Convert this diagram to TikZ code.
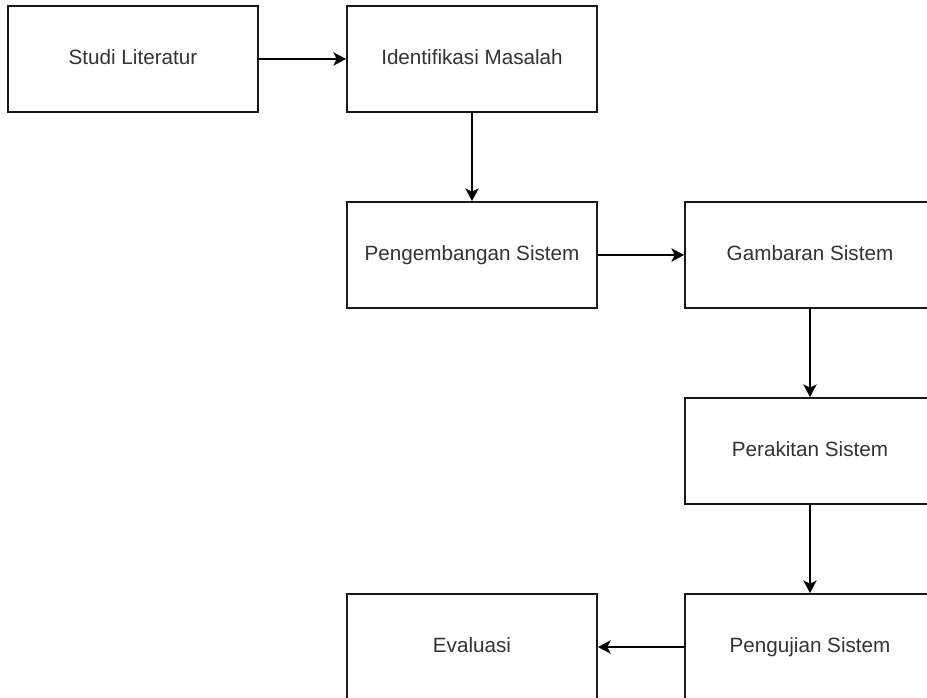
\documentclass[tikz,border=0pt]{standalone}
\usepackage{fontspec}
\setmainfont{Liberation Sans}
\usetikzlibrary{arrows.meta}
\begin{document}
\begin{tikzpicture}[x=0.75pt,y=-0.75pt,
  box/.style={draw=black!90,line width=1.4pt,fill=white,minimum width=187.5pt,minimum height=79.5pt,inner sep=0pt,font=\fontsize{15.5}{18}\selectfont,text=black!80,text height=11.5pt,text depth=3.5pt},
  conn/.style={draw=black,line width=1.4pt,-{Stealth[length=9.5pt,width=10pt,inset=2.5pt]}}]
\useasboundingbox (0,0) rectangle (927,698);
\clip (0,0) rectangle (927,698);
\node[box] (studi) at (133,59) {Studi Literatur};
\node[box] (ident) at (472,59) {Identifikasi Masalah};
\node[box] (pengem) at (472,255) {Pengembangan Sistem};
\node[box] (gamb) at (810,255) {Gambaran Sistem};
\node[box] (perak) at (810,451) {Perakitan Sistem};
\node[box] (eval) at (472,647) {Evaluasi};
\node[box] (penguj) at (810,647) {Pengujian Sistem};
\draw[conn] (studi) -- (ident);
\draw[conn] (ident) -- (pengem);
\draw[conn] (pengem) -- (gamb);
\draw[conn] (gamb) -- (perak);
\draw[conn] (perak) -- (penguj);
\draw[conn] (penguj) -- (eval);
\end{tikzpicture}
\end{document}
